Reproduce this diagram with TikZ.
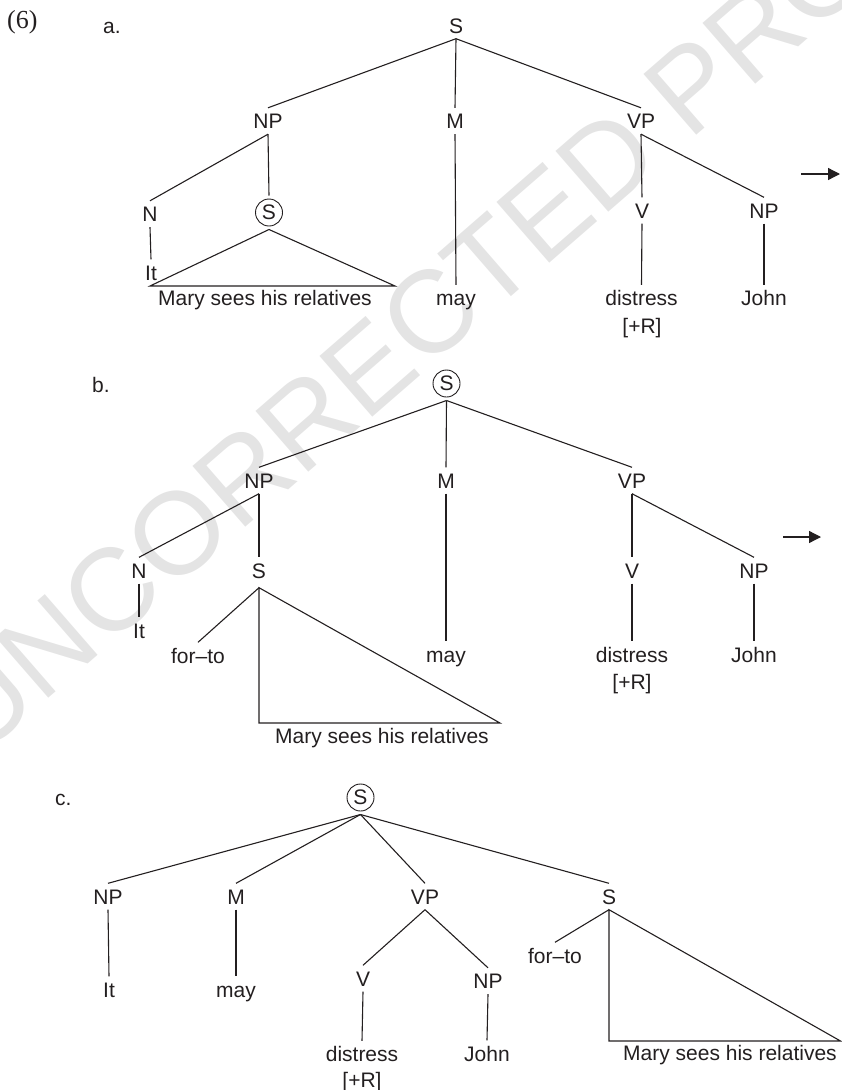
\documentclass[tikz,border=0pt]{standalone}
\usepackage{fontspec}
\setmainfont{Liberation Sans}
\newfontfamily\exnumfont{Liberation Serif}
\usetikzlibrary{arrows.meta}

\definecolor{ink}{RGB}{35,31,32}
\definecolor{proofgray}{RGB}{228,228,228}

\begin{document}
\begin{tikzpicture}[x=1pt,y=-1pt,
  every node/.style={font=\fontsize{21}{25}\selectfont, text=ink},
  lab/.style={inner xsep=2pt, inner ysep=5.5pt, text height=15pt, text depth=0pt, anchor=base},
  circled/.style={circle, draw=ink, line width=0.9pt, inner sep=0pt, minimum size=27pt, outer sep=3.5pt},
  mark label/.style={inner sep=0pt, anchor=base west},
  branch/.style={draw=ink, line width=1.1pt},
  derives/.style={draw=ink, line width=1.3pt, -{Triangle[length=12pt,width=12pt]}}]

\useasboundingbox (0,0) rectangle (841,1090);

% faint proof stamp behind everything
\node[font=\fontsize{117}{117}\selectfont, text=proofgray, rotate=41, anchor=base west, inner sep=0pt]
  (stamp) at (-22,760) {UNCORRECTED PROOF};

% ---------- (6a) ----------
\node[mark label, font=\exnumfont\fontsize{26}{30}\selectfont] (exnum) at (7,28.5) {(6)};
\node[mark label] (alab) at (103,33) {a.};

\node[lab] (aS)   at (456,33)    {S};
\node[lab] (aNP)  at (268,128.5) {NP};
\node[lab] (aM)   at (455,128.5) {M};
\node[lab] (aVP)  at (641,128.5) {VP};
\node[lab] (aN)   at (150,221.5) {N};
\node[circled] (aSc) at (269,212.5) {S};
\node[lab] (aV)   at (642,218)   {V};
\node[lab] (aNPo) at (764,218)   {NP};
\node[lab] (aIt)  at (151,280)   {It};
\node[lab] (aMary) at (265,305.5) {Mary sees his relatives};
\node[lab] (amay) at (456,305.5) {may};
\node[lab] (adist) at (641.5,305.5) {distress};
\node[lab] (aplusR) at (642,333) {[+R]};
\node[lab] (aJohn) at (764,305.5) {John};

\draw[branch] (aS.south) -- (aNP.north);
\draw[branch] (aS.south) -- (aM.north);
\draw[branch] (aS.south) -- (aVP.north);
\draw[branch] (aNP.south) -- (aN.north);
\draw[branch] (aNP.south) -- (aSc.north);
\draw[branch] (aN.south) -- (aIt.north);
\draw[branch] (aM.south) -- (amay.north);
\draw[branch] (aVP.south) -- (aV.north);
\draw[branch] (aVP.south) -- (aNPo.north);
\draw[branch] (aV.south) -- (adist.north);
\draw[branch] (aNPo.south) -- (aJohn.north);

\coordinate (aTriL) at (150,286);
\coordinate (aTriR) at (395,286);
\draw[branch, line join=miter] (aSc.south) -- (aTriL) -- (aTriR) -- cycle;

\coordinate (aArrowFrom) at (801,174);
\coordinate (aArrowTo) at (840,174);
\draw[derives] (aArrowFrom) -- (aArrowTo);

% ---------- (6b) ----------
\node[mark label] (blab) at (92,392) {b.};

\node[circled] (bSc) at (446.5,383.5) {S};
\node[lab] (bNP)  at (259,488) {NP};
\node[lab] (bM)   at (446,488) {M};
\node[lab] (bVP)  at (632,488) {VP};
\node[lab] (bN)   at (139,578) {N};
\node[lab] (bS)   at (259,578) {S};
\node[lab] (bV)   at (632,578) {V};
\node[lab] (bNPo) at (754,578) {NP};
\node[lab] (bIt)  at (139,638) {It};
\node[lab] (bfor) at (198,663) {for–to};
\node[lab] (bmay) at (446,662) {may};
\node[lab] (bdist) at (632,662) {distress};
\node[lab] (bplusR) at (632,689) {[+R]};
\node[lab] (bJohn) at (754,662) {John};
\node[lab] (bMary) at (382,743) {Mary sees his relatives};

\draw[branch] (bSc.south) -- (bNP.north);
\draw[branch] (bSc.south) -- (bM.north);
\draw[branch] (bSc.south) -- (bVP.north);
\draw[branch] (bNP.south) -- (bN.north);
\draw[branch] (bNP.south) -- (bS.north);
\draw[branch] (bN.south) -- (bIt.north);
\draw[branch] (bM.south) -- (bmay.north);
\draw[branch] (bVP.south) -- (bV.north);
\draw[branch] (bVP.south) -- (bNPo.north);
\draw[branch] (bV.south) -- (bdist.north);
\draw[branch] (bNPo.south) -- (bJohn.north);
\draw[branch] ([yshift=-4pt]bS.south) -- (bfor.north);

\coordinate (bTriL) at (259,723);
\coordinate (bTriR) at (500,723);
\draw[branch, line join=miter] ([yshift=-4pt]bS.south) -- (bTriL) -- (bTriR) -- cycle;

\coordinate (bArrowFrom) at (783,537);
\coordinate (bArrowTo) at (821,537);
\draw[derives] (bArrowFrom) -- (bArrowTo);

% ---------- (6c) ----------
\node[mark label] (clab) at (55,805) {c.};

\node[circled] (cSc) at (360.5,797.5) {S};
\node[lab] (cNP)  at (108,904) {NP};
\node[lab] (cM)   at (236,904) {M};
\node[lab] (cVP)  at (425,904) {VP};
\node[lab] (cS)   at (609,904) {S};
\node[lab] (cfor) at (555,963) {for–to};
\node[lab] (cV)   at (363,986) {V};
\node[lab] (cNPo) at (488,988.5) {NP};
\node[lab] (cIt)  at (109,997) {It};
\node[lab] (cmay) at (236,997) {may};
\node[lab] (cdist) at (362,1061.5) {distress};
\node[lab] (cplusR) at (362,1087) {[+R]};
\node[lab] (cJohn) at (487,1061) {John};
\node[lab] (cMary) at (730,1060) {Mary sees his relatives};

\draw[branch] (cSc.south) -- (cNP.north);
\draw[branch] (cSc.south) -- (cM.north);
\draw[branch] (cSc.south) -- (cVP.north);
\draw[branch] (cSc.south) -- (cS.north);
\draw[branch] (cNP.south) -- (cIt.north);
\draw[branch] (cM.south) -- (cmay.north);
\draw[branch] (cVP.south) -- (cV.north);
\draw[branch] (cVP.south) -- (cNPo.north);
\draw[branch] (cV.south) -- (cdist.north);
\draw[branch] (cNPo.south) -- (cJohn.north);
\draw[branch] (cS.south) -- (cfor.north);

\coordinate (cTriL) at (609,1041);
\coordinate (cTriR) at (840.5,1041);
\draw[branch, line join=miter] (cS.south) -- (cTriL) -- (cTriR) -- cycle;

\end{tikzpicture}
\end{document}
